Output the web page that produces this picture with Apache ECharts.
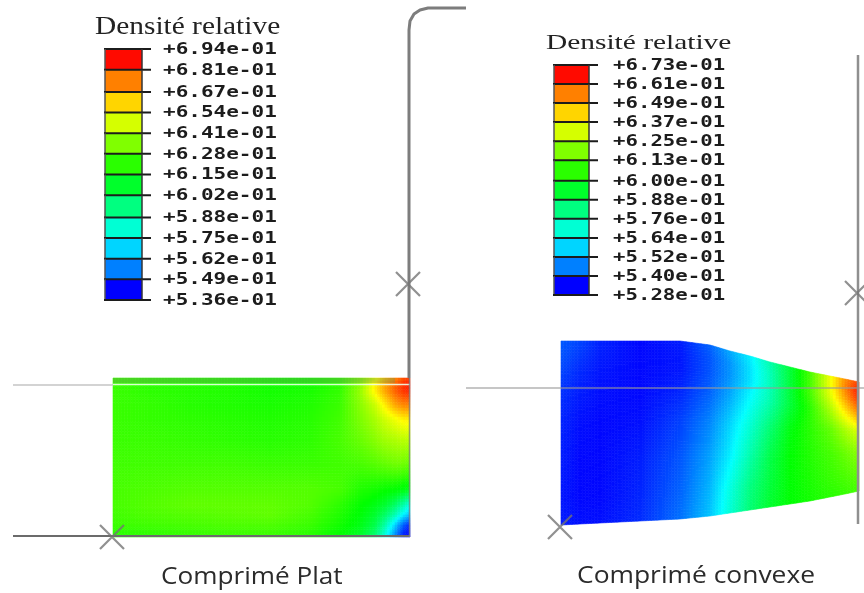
<!DOCTYPE html>
<html><head><meta charset="utf-8">
<style>html,body{margin:0;padding:0;background:#fff}#c{width:864px;height:593px;filter:blur(0.7px)}</style>
<script src="https://cdn.jsdelivr.net/npm/echarts@6/dist/echarts.min.js"></script></head>
<body><div id="c"></div>
<script>
// Legend levels (relative density, top to bottom)
const plateLevels = [0.694,0.681,0.667,0.654,0.641,0.628,0.615,0.602,0.588,0.575,0.562,0.549,0.536];
const convexLevels = [0.673,0.661,0.649,0.637,0.625,0.613,0.600,0.588,0.576,0.564,0.552,0.540,0.528];
const legendTitle = 'Densité relative';
const plateCaption = 'Comprimé Plat';
const convexCaption = 'Comprimé convexe';

// Flat compact: mesh and density field (in thousandths)
const plateX = [113,150,190,230,270,310,340,360,375,385,395,403,410];
const plateY = [378,384,392,405,420,440,465,490,505,515,525,532,537];
const plateField = [
 [624,622,621,620,618,618,622,634,650,664,672,680,684],
 [624,622,621,620,618,618,622,636,656,668,678,686,690],
 [624,622,621,620,618,619,623,638,656,668,678,685,688],
 [624,623,621,620,619,620,624,636,646,657,668,673,674],
 [624,623,622,621,620,621,625,634,641,647,652,656,657],
 [624,624,623,622,621,622,626,631,636,640,642,644,644],
 [625,625,625,625,624,624,625,626,628,630,632,632,630],
 [626,627,628,628,628,628,626,620,618,616,615,613,611],
 [626,628,630,630,630,628,622,616,612,608,600,590,580],
 [625,627,628,629,630,626,620,614,608,600,588,575,566],
 [624,625,626,627,627,624,618,612,604,590,570,552,542],
 [622,623,624,625,625,622,616,610,600,584,562,544,538],
 [621,622,623,624,624,621,615,608,598,580,558,541,536]
];

// Convex compact: mesh, upper and lower profile, density field (in thousandths)
const convexX = [561,580,600,640,680,710,730,750,770,790,810,830,845,859];
const convexTop = [341,341,341,341,341,345,351,356,362,367,372,376,379,382];
const convexBottom = [525,524,523,521,519,516,513,510,507,504,501,497,494,491];
const convexFrac = [0,0.08,0.16,0.28,0.45,0.65,0.85,1];
const convexField = [
 [541,538,533,529,532,542,552,562,576,592,610,634,652,664],
 [540,536,532,529,531,540,549,560,574,592,610,634,654,670],
 [538,534,531,529,531,540,549,560,574,592,610,632,650,666],
 [535,532,530,529,533,542,552,564,576,592,606,624,640,654],
 [533,530,529,530,537,547,558,570,584,598,606,614,624,632],
 [532,529,529,532,540,551,562,576,590,600,605,610,615,620],
 [531,529,529,533,542,554,568,582,592,600,604,608,611,614],
 [532,530,530,534,544,556,570,584,594,600,603,606,608,610]
];

// Tooling outlines
const punchPath = [[409,378],[409,30],[410,21],[414,14],[420,10],[428,8],[466,8]];
const plateTopLine = [[13,385],[113,385]];
const plateTopSeam = [[113,384.5],[410,384.5]];
const plateBase = [[13,536],[410,536]];
const plateRightEdge = [[409.5,378],[409.5,537]];
const convexAxisLine = [[466,388],[864,388]];
const convexWall = [[858,55],[858,524]];
const crossMarks = [[112,537],[408,284],[857,293],[560,527]];

const rainbow = [[0,0,255],[0,255,255],[0,255,0],[255,255,0],[255,0,0]];
function colorAt(t){
  t = Math.max(0, Math.min(1, t)) * 4;
  const i = Math.min(3, Math.floor(t)), f = t - i, a = rainbow[i], b = rainbow[i+1];
  return 'rgb(' + a.map((v,k)=>Math.round(v+(b[k]-v)*f)).join(',') + ')';
}

// Draws one mesh cell with smooth (bilinear) shading
function fieldRenderer(field, corner, lo, hi){
  return function(params, api){
    const c = api.value(0), r = api.value(1);
    const P = (cc,rr)=>api.coord(corner(cc,rr));
    const p00=P(c,r), p10=P(c+1,r), p01=P(c,r+1), p11=P(c+1,r+1);
    const nx = Math.max(1, Math.ceil(Math.abs(p10[0]-p00[0])/3));
    const ny = Math.max(1, Math.ceil(Math.abs(p01[1]-p00[1])/3));
    const f00=field[r][c], f10=field[r][c+1], f01=field[r+1][c], f11=field[r+1][c+1];
    const pt=(u,v)=>[
      (1-v)*((1-u)*p00[0]+u*p10[0])+v*((1-u)*p01[0]+u*p11[0]),
      (1-v)*((1-u)*p00[1]+u*p10[1])+v*((1-u)*p01[1]+u*p11[1])];
    const children=[];
    for(let i=0;i<nx;i++) for(let j=0;j<ny;j++){
      const u0=i/nx,u1=(i+1)/nx,v0=j/ny,v1=(j+1)/ny,um=(u0+u1)/2,vm=(v0+v1)/2;
      const val=(1-vm)*((1-um)*f00+um*f10)+vm*((1-um)*f01+um*f11);
      const col=colorAt((val-lo)/(hi-lo));
      children.push({type:'polygon',shape:{points:[pt(u0,v0),pt(u1,v0),pt(u1,v1),pt(u0,v1)]},
        style:{fill:col,stroke:col,lineWidth:0.6},silent:true});
    }
    return {type:'group',children};
  };
}
function cells(field){
  const out=[];
  for(let r=0;r<field.length-1;r++) for(let c=0;c<field[0].length-1;c++) out.push([c,r]);
  return out;
}

// Banded legend, one item per band
function legendSeries(levels, gridIndex, labelX, labelScale){
  const n = levels.length-1, data=[];
  levels.forEach((v,i)=>data.push([v, i<n?levels[i+1]:v, i]));
  return {
    type:'custom', xAxisIndex:gridIndex, yAxisIndex:gridIndex, data, silent:true, clip:false, z:5,
    encode:{y:[0,1]},
    renderItem(params, api){
      const top=api.value(0), bot=api.value(1), i=api.value(2);
      const a=api.coord([0,top]), b=api.coord([1,bot]), e=api.coord([1,top]);
      const ch=[];
      // the end bands sit at the extremes of the rainbow
      const t = i===n-1 ? 0 : i===0 ? 0.99 : (n-i-0.5)/n;
      if(i<n) ch.push({type:'rect',shape:{x:a[0],y:a[1],width:b[0]-a[0],height:b[1]-a[1]},
        style:{fill:colorAt(t)}});
      ch.push({type:'line',shape:{x1:a[0]-1,y1:a[1],x2:e[0]+9,y2:a[1]},style:{stroke:'#1c1c1c',lineWidth:2}});
      const s=(levels[i]*10).toFixed(2);
      ch.push({type:'text',x:labelX,y:a[1]+1,scaleX:labelScale,scaleY:1,
        style:{text:'+'+s+'e-01',font:'bold 15px "DejaVu Sans Mono"',fill:'#1c1c1c',textVerticalAlign:'middle'}});
      if(i<n){
        ch.push({type:'line',shape:{x1:a[0],y1:a[1],x2:a[0],y2:b[1]},style:{stroke:'#555',lineWidth:1.5}});
        ch.push({type:'line',shape:{x1:e[0],y1:a[1],x2:e[0],y2:b[1]},style:{stroke:'#333',lineWidth:1.5}});
      }
      return {type:'group',children:ch};
    }
  };
}
function lineSeries(data,color,width,opacity,z){
  return {type:'line',data,showSymbol:false,silent:true,animation:false,z:z||3,clip:false,
    lineStyle:{color,width,opacity:opacity==null?1:opacity,cap:'butt'},xAxisIndex:0,yAxisIndex:0};
}

const chart = echarts.init(document.getElementById('c'),null,{renderer:'canvas'});
const hidden = {show:false};
chart.setOption({
  animation:false,
  backgroundColor:'#fff',
  grid:[
    {left:0,top:0,width:864,height:593},
    {left:105,top:49,width:37,height:251},
    {left:554,top:65,width:35,height:230}
  ],
  xAxis:[
    {type:'value',min:0,max:864,gridIndex:0,...hidden},
    {type:'value',min:0,max:1,gridIndex:1,...hidden},
    {type:'value',min:0,max:1,gridIndex:2,...hidden}
  ],
  yAxis:[
    {type:'value',min:0,max:593,inverse:true,gridIndex:0,...hidden},
    {type:'value',min:plateLevels[12],max:plateLevels[0],gridIndex:1,...hidden},
    {type:'value',min:convexLevels[12],max:convexLevels[0],gridIndex:2,...hidden}
  ],
  series:[
    {type:'custom',data:cells(plateField),silent:true,z:1,xAxisIndex:0,yAxisIndex:0,
     renderItem:fieldRenderer(plateField,(c,r)=>[plateX[c],plateY[r]],536,694)},
    {type:'custom',data:cells(convexField),silent:true,z:1,xAxisIndex:0,yAxisIndex:0,
     renderItem:fieldRenderer(convexField,(c,r)=>[convexX[c],convexTop[c]+(convexBottom[c]-convexTop[c])*convexFrac[r]],528,673)},
    lineSeries([[113,380.5],[395,380.5]],'#6a8a5a',5,0.35),
    lineSeries(plateTopLine,'#c4c4c4',1.5),
    lineSeries(plateTopSeam,'#f0ffe8',1.5,0.9),
    lineSeries(plateBase,'#6b6b6b',2),
    lineSeries(plateRightEdge,'#808080',1.5,0.8),
    lineSeries(punchPath,'#7d7d7d',3),
    lineSeries(convexAxisLine,'#9a9a9a',1.5,0.75),
    lineSeries(convexWall,'#8f8f8f',2.5),
    {type:'scatter',data:crossMarks,xAxisIndex:0,yAxisIndex:0,silent:true,z:4,clip:false,
     symbol:'path://M0 0L10 10M10 0L0 10',symbolSize:24,
     itemStyle:{color:'transparent',borderColor:'#747474',borderWidth:2.2}},
    legendSeries(plateLevels,1,163,1.4),
    legendSeries(convexLevels,2,613,1.38)
  ],
  graphic:[
    {type:'text',x:95,y:14,scaleX:1.13,scaleY:1,silent:true,
     style:{text:legendTitle,font:'26px "Liberation Serif"',fill:'#222'}},
    {type:'text',x:546,y:33,scaleX:1.4,scaleY:1,silent:true,
     style:{text:legendTitle,font:'21px "Liberation Serif"',fill:'#222'}},
    {type:'text',x:161,y:565,scaleX:1.09,silent:true,
     style:{text:plateCaption,font:'24px "Open Sans"',fill:'#2b2b2b'}},
    {type:'text',x:577,y:564,scaleX:1.1,silent:true,
     style:{text:convexCaption,font:'24px "Open Sans"',fill:'#2b2b2b'}}
  ]
});
</script></body></html>
